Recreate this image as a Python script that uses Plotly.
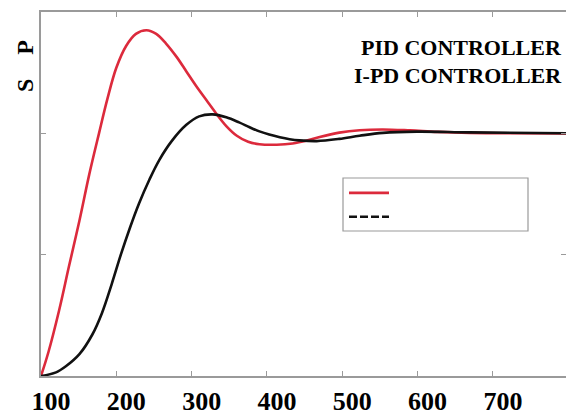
import plotly.graph_objects as go

# ---- data ----
pid_x = [100, 110, 124, 137, 151, 164, 177, 188, 200, 213, 226, 240, 253, 266, 280, 293, 306, 320,
         333, 346, 360, 375, 390, 413, 434, 453, 470, 496, 523, 554, 590, 626, 669, 800]
pid_y = [0.0, 0.1, 0.27, 0.45, 0.64, 0.83, 1.0, 1.14, 1.27, 1.36, 1.41, 1.425, 1.41, 1.37, 1.315,
         1.255, 1.195, 1.135, 1.08, 1.03, 0.99, 0.965, 0.955, 0.953, 0.958, 0.97, 0.985, 1.003,
         1.013, 1.016, 1.012, 1.006, 1.002, 1.0]

ipd_x = [100, 120, 133, 151, 168, 181, 194, 206, 218, 230, 244, 257, 274, 293, 310, 328, 346, 363,
         377, 390, 403, 417, 430, 443, 466, 496, 523, 554, 599, 669, 800]
ipd_y = [0.0, 0.015, 0.04, 0.09, 0.17, 0.26, 0.38, 0.5, 0.61, 0.71, 0.81, 0.89, 0.97, 1.035, 1.07,
         1.078, 1.066, 1.045, 1.025, 1.008, 0.995, 0.984, 0.976, 0.971, 0.968, 0.977, 0.99, 1.002,
         1.007, 1.004, 1.0]

x_ticks = [100, 200, 300, 400, 500, 600, 700]
y_ticks = [0, 0.5, 1.0, 1.5]
labels = ["PID CONTROLLER", "I-PD CONTROLLER"]
y_title = "S\u00a0\u00a0\u00a0\u00a0P"

RED = "#dc2a3c"
BLACK = "#111111"
GREY = "#9a9a9a"
SERIF = "Liberation Serif, Tinos, Times New Roman, DejaVu Serif, serif"

fig = go.Figure()
fig.add_trace(go.Scatter(x=pid_x, y=pid_y, mode="lines", line=dict(color=RED, width=2.6),
                         line_shape="spline", name=" ", showlegend=True))
fig.add_trace(go.Scatter(x=ipd_x, y=ipd_y, mode="lines", line=dict(color=BLACK, width=2.6),
                         line_shape="spline", name=" ", showlegend=False))
# legend sample for the I-PD curve (dashed)
fig.add_trace(go.Scatter(x=[None], y=[None], mode="lines",
                         line=dict(color=BLACK, width=2.6, dash="8px,3px"), name=" "))

W, H = 566, 415
L, R, T, B = 41, 0, 12, 39
pw, ph = W - L - R, H - T - B


def px(xp):
    return (xp - L) / pw


def py(yp):
    return (H - B - yp) / ph


axis_common = dict(showline=True, linecolor=GREY, linewidth=1.5, mirror="ticks",
                   ticks="inside", ticklen=5, tickcolor=GREY, tickwidth=1.2,
                   showgrid=False, zeroline=False, automargin=False)

fig.update_layout(
    width=W, height=H,
    margin=dict(l=L, r=R, t=T, b=B, autoexpand=False),
    paper_bgcolor="white", plot_bgcolor="white",
    showlegend=True,
    legend=dict(x=px(344), y=py(176), xanchor="left", yanchor="top",
                bgcolor="rgba(0,0,0,0)", borderwidth=0,
                font=dict(family=SERIF, size=16, color="black"),
                itemwidth=40, tracegroupgap=0),
    xaxis=dict(range=[100, 797], tickvals=x_ticks, ticktext=[str(v) for v in x_ticks],
               tickfont=dict(family=SERIF, size=26, color="black", weight="bold"),
               ticklabelshift=10, ticklabelstandoff=1, **axis_common),
    yaxis=dict(range=[0, 1.5], tickvals=y_ticks, showticklabels=False, **axis_common),
    shapes=[dict(type="rect", xref="paper", yref="paper",
                 x0=px(343), x1=px(528), y0=py(231), y1=py(178),
                 line=dict(color=GREY, width=1.2), fillcolor="rgba(0,0,0,0)", layer="above")],
    annotations=[
        dict(text=labels[0], xref="paper", yref="paper", x=px(564), y=py(47),
             xanchor="right", yanchor="middle", showarrow=False,
             font=dict(family=SERIF, size=22, color="black", weight="bold")),
        dict(text=labels[1], xref="paper", yref="paper", x=px(564), y=py(75.5),
             xanchor="right", yanchor="middle", showarrow=False,
             font=dict(family=SERIF, size=22, color="black", weight="bold")),
        dict(text=y_title, xref="paper", yref="paper", x=px(25), y=py(66),
             xanchor="center", yanchor="middle", textangle=-90, showarrow=False,
             font=dict(family=SERIF, size=24, color="black", weight="bold")),
    ],
)

fig.write_html("out.html", config={"displayModeBar": False},
               post_script="document.body.style.margin='0px';document.body.style.padding='0px';")
